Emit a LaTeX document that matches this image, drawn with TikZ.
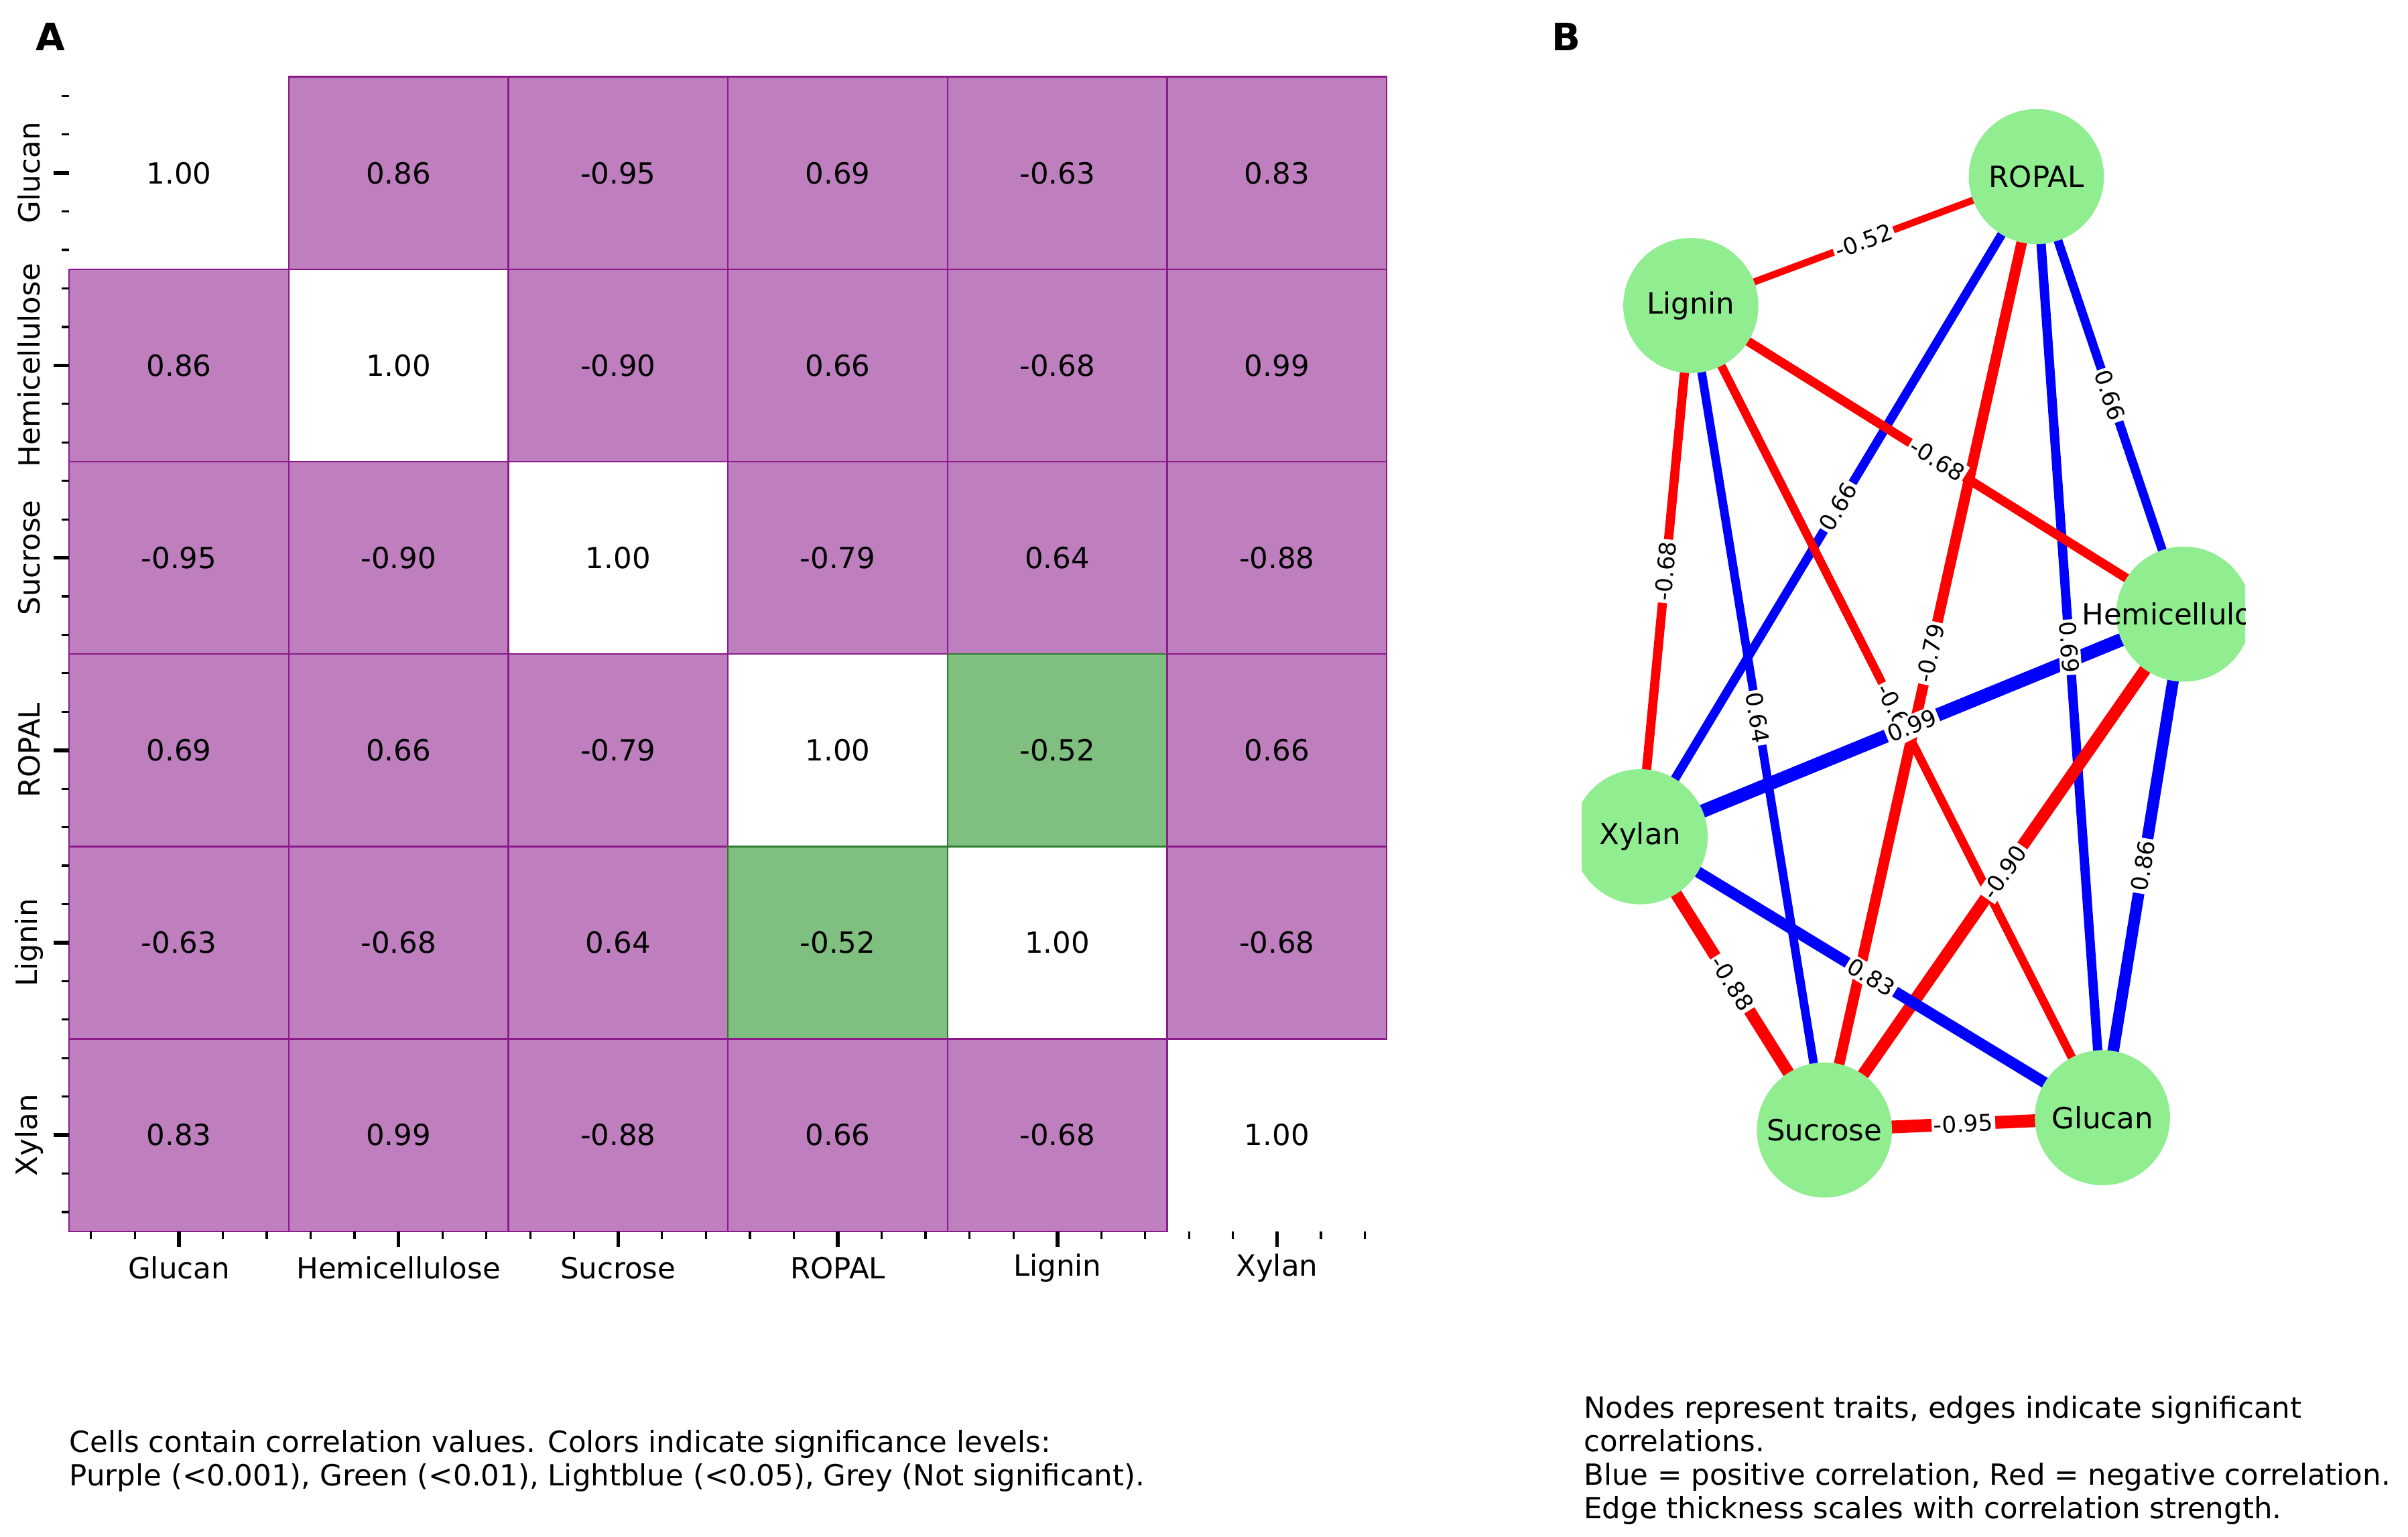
\documentclass[tikz,border=0pt]{standalone}
\usepackage{fontspec}
\setmainfont{DejaVu Sans}
\definecolor{pfill}{HTML}{BF7FBF}
\definecolor{pline}{HTML}{8B1A8B}
\definecolor{gfill}{HTML}{7FBF7F}
\definecolor{gline}{HTML}{2E7D2E}
\definecolor{ngreen}{HTML}{90EE90}
\begin{document}
\begin{tikzpicture}[x=0.02cm,y=-0.02cm,
  lab/.style={font=\fontsize{10.8}{12.4}\selectfont},
  pcell/.style={fill=pfill,draw=pline,line width=0.6pt},
  gcell/.style={fill=gfill,draw=gline,line width=0.6pt},
  tn/.style={circle,fill=ngreen,minimum size=88*0.02cm,inner sep=0pt},
  tt/.style={font=\fontsize{10.8}{12.4}\selectfont,inner sep=0pt},
  el/.style={fill=white,inner sep=0.8pt,font=\fontsize{8.5}{10}\selectfont,sloped},
  posedge/.style={draw=blue},
  negedge/.style={draw=red}]
\useasboundingbox (0,0) rectangle (1568,1001);
\node[font=\bfseries\fontsize{14}{16}\selectfont] (A) at (33,24) {A};
\node[font=\bfseries\fontsize{14}{16}\selectfont] (B) at (1020,24) {B};
% heatmap
\def\cw{143}\def\ch{125.33}
\def\names{{"Glucan","Hemicellulose","Sucrose","ROPAL","Lignin","Xylan"}}
\def\vals{{{"1.00","0.86","-0.95","0.69","-0.63","0.83"},{"0.86","1.00","-0.90","0.66","-0.68","0.99"},{"-0.95","-0.90","1.00","-0.79","0.64","-0.88"},{"0.69","0.66","-0.79","1.00","-0.52","0.66"},{"-0.63","-0.68","0.64","-0.52","1.00","-0.68"},{"0.83","0.99","-0.88","0.66","-0.68","1.00"}}}
\foreach \r in {0,...,5}{
  \foreach \c in {0,...,5}{
    \pgfmathsetmacro{\xa}{45+\c*\cw}\pgfmathsetmacro{\ya}{50+\r*\ch}
    \pgfmathsetmacro{\xb}{\xa+\cw}\pgfmathsetmacro{\yb}{\ya+\ch}
    \pgfmathparse{\vals[\r][\c]}\edef\v{\pgfmathresult}
    \ifnum\r=\c\else
      \ifnum\numexpr\r*10+\c\relax=34 \fill[gcell] (\xa,\ya) rectangle (\xb,\yb);
      \else\ifnum\numexpr\r*10+\c\relax=43 \fill[gcell] (\xa,\ya) rectangle (\xb,\yb);
      \else \fill[pcell] (\xa,\ya) rectangle (\xb,\yb);\fi\fi
    \fi
    \node[lab] (v\r\c) at ({\xa+\cw/2},{\ya+\ch/2}) {\v};
  }
}
\foreach \i in {0,...,5}{
  \pgfmathparse{\names[\i]}\edef\nm{\pgfmathresult}
  \pgfmathsetmacro{\xc}{45+\i*\cw+\cw/2}\pgfmathsetmacro{\yc}{50+\i*\ch+\ch/2}
  \draw[line width=1.4pt] (\xc,802) -- (\xc,812);
  \draw[line width=1.4pt] (45,\yc) -- (35,\yc);
  \foreach \k in {0.1,0.3,0.7,0.9}{
    \draw[line width=0.8pt] ({45+\i*\cw+\k*\cw},802) -- ({45+\i*\cw+\k*\cw},807);
    \draw[line width=0.8pt] (45,{50+\i*\ch+\k*\ch}) -- (40,{50+\i*\ch+\k*\ch});
  }
  \node[lab] (xl\i) at (\xc,826) {\nm};
  \node[lab,rotate=90] (yl\i) at (19,\yc) {\nm};
}
\node[lab,align=left,anchor=north west,inner sep=0pt] (capA) at (45,931) {Cells contain correlation values. Colors indicate significance levels:\\Purple (<0.001), Green (<0.01), Lightblue (<0.05), Grey (Not significant).};
% network
\coordinate (R) at (1326,115);
\coordinate (L) at (1101,199);
\coordinate (H) at (1422,400);
\coordinate (X) at (1068,545);
\coordinate (S) at (1188,736);
\coordinate (G) at (1369,728);
\begin{scope}
\clip (1030,0) rectangle (1462,1001);
\foreach \a/\b/\w/\s in {R/L/0.52/negedge,R/X/0.66/posedge,R/S/0.79/negedge,R/G/0.69/posedge,R/H/0.66/posedge,L/H/0.68/negedge,L/X/0.68/negedge,L/S/0.64/posedge,L/G/0.63/negedge,H/X/0.99/posedge,H/S/0.90/negedge,H/G/0.86/posedge,X/S/0.88/negedge,X/G/0.83/posedge,S/G/0.95/negedge}
  \draw[\s,line width=\w*5pt] (\a) -- (\b);
\foreach \a/\b/\t in {R/L/-0.52,R/X/0.66,R/S/-0.79,R/G/0.69,R/H/0.66,L/H/-0.68,L/X/-0.68,L/S/0.64,L/G/-0.63,H/X/0.99,H/S/-0.90,H/G/0.86,X/S/-0.88,X/G/0.83,S/G/-0.95}
  \path (\a) -- node[el] {\t} (\b);
\foreach \n/\t in {R/ROPAL,L/Lignin,H/Hemicellulose,X/Xylan,S/Sucrose,G/Glucan}{
  \node[tn] (n\n) at (\n) {};
  \node[tt] (t\n) at (\n) {\t};
}
\end{scope}
\node[lab,align=left,anchor=north west,inner sep=0pt] (capB) at (1031,909) {Nodes represent traits, edges indicate significant\\correlations.\\Blue = positive correlation, Red = negative correlation.\\Edge thickness scales with correlation strength.};
\end{tikzpicture}
\end{document}
